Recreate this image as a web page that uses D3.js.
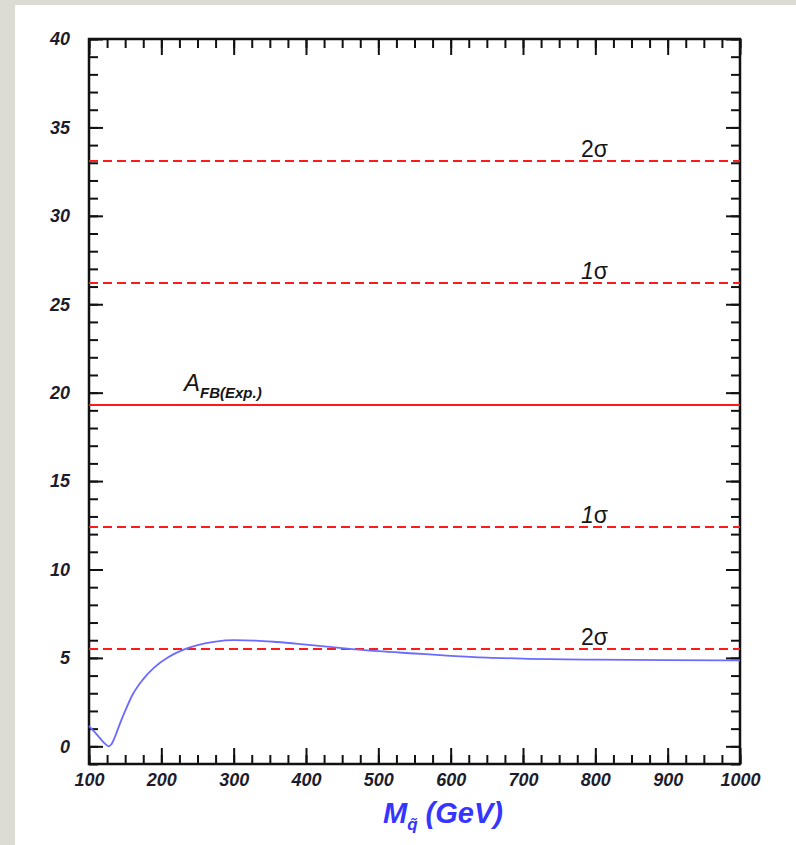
<!DOCTYPE html>
<html>
<head>
<meta charset="utf-8">
<script src="https://cdn.jsdelivr.net/npm/d3@7"></script>
<style>
  body { margin: 0; background: #dcdcd4; }
  svg { display: block; }
  .tick text { font-family: "Liberation Sans", Arial, sans-serif; font-weight: bold; font-style: italic; font-size: 18px; fill: #1c1c2c; }
</style>
</head>
<body>
<div id="chart"></div>
<script>
var w = 796;
var h = 845;

var mass = [100, 108, 116, 122, 127, 131, 136, 142, 150, 160, 175, 190, 210, 230, 250, 275, 300, 330, 360, 400, 450, 500, 550, 600, 650, 700, 800, 900, 1000];
var afb = [1.15, 0.8, 0.42, 0.15, 0.0, 0.12, 0.55, 1.2, 2.0, 2.9, 3.8, 4.45, 5.05, 5.45, 5.72, 5.92, 6.0, 5.98, 5.9, 5.75, 5.55, 5.38, 5.25, 5.12, 5.02, 4.96, 4.9, 4.87, 4.86];

var expValue = 19.3;
var sigmaLines = [
  { value: 33.1, label: "2" },
  { value: 26.2, label: "1" },
  { value: 12.4, label: "1" },
  { value: 5.5, label: "2" }
];

var xMajor = [100, 200, 300, 400, 500, 600, 700, 800, 900, 1000];
var yMajor = [0, 5, 10, 15, 20, 25, 30, 35, 40];

var plotL = 89, plotR = 740, plotT = 39, plotB = 764;

var svg = d3.select("#chart")
  .append("svg")
  .attr("width", w)
  .attr("height", h);

// page background with the grey strip on the left and top
svg.append("rect")
  .attr("x", 15).attr("y", 5)
  .attr("width", w - 15).attr("height", h - 5)
  .attr("fill", "#ffffff");

var xScale = d3.scaleLinear().domain([100, 1000]).range([plotL, plotR]);
var yScale = d3.scaleLinear().domain([-1, 40]).range([plotB, plotT]);

var xMinor = d3.range(100, 1001, 25);
var yMinor = d3.range(-1, 41, 1);

function drawAxis(axis, tx, ty) {
  var g = svg.append("g")
    .attr("transform", "translate(" + tx + "," + ty + ")")
    .call(axis);
  g.select(".domain").remove();
  g.selectAll(".tick line").attr("stroke", "#111").attr("stroke-width", 2);
  return g;
}

// bottom
drawAxis(d3.axisBottom(xScale).tickValues(xMinor).tickSize(-9).tickFormat(""), 0, plotB);
drawAxis(d3.axisBottom(xScale).tickValues(xMajor).tickSize(-16).tickPadding(9).tickFormat(d3.format("d")), 0, plotB);
// top
drawAxis(d3.axisTop(xScale).tickValues(xMinor).tickSize(-9).tickFormat(""), 0, plotT);
drawAxis(d3.axisTop(xScale).tickValues(xMajor).tickSize(-16).tickFormat(""), 0, plotT);
// left
drawAxis(d3.axisLeft(yScale).tickValues(yMinor).tickSize(-9).tickFormat(""), plotL, 0);
drawAxis(d3.axisLeft(yScale).tickValues(yMajor).tickSize(-14).tickPadding(19).tickFormat(d3.format("d")), plotL, 0);
// right
drawAxis(d3.axisRight(yScale).tickValues(yMinor).tickSize(-9).tickFormat(""), plotR, 0);
drawAxis(d3.axisRight(yScale).tickValues(yMajor).tickSize(-14).tickFormat(""), plotR, 0);

svg.append("rect")
  .attr("x", plotL).attr("y", plotT)
  .attr("width", plotR - plotL).attr("height", plotB - plotT)
  .attr("fill", "none")
  .attr("stroke", "#111")
  .attr("stroke-width", 2.5);

// experimental value and sigma bands
svg.append("line")
  .attr("x1", plotL).attr("x2", plotR)
  .attr("y1", yScale(expValue)).attr("y2", yScale(expValue))
  .attr("stroke", "#ff1a1a")
  .attr("stroke-width", 2);

svg.selectAll(".sigma")
  .data(sigmaLines)
  .enter()
  .append("line")
  .attr("class", "sigma")
  .attr("x1", plotL).attr("x2", plotR)
  .attr("y1", function(d) { return yScale(d.value); })
  .attr("y2", function(d) { return yScale(d.value); })
  .attr("stroke", "#ff1a1a")
  .attr("stroke-width", 2)
  .attr("stroke-dasharray", "9,5");

var sigmaText = svg.selectAll(".sigmaLabel")
  .data(sigmaLines)
  .enter()
  .append("text")
  .attr("class", "sigmaLabel")
  .attr("x", 581)
  .attr("y", function(d) { return yScale(d.value) - 4; })
  .style("font-family", "'Liberation Sans', Arial, sans-serif")
  .style("font-size", "23px")
  .attr("fill", "#151515");
sigmaText.append("tspan")
  .style("font-style", function(d) { return d.label === "1" ? "italic" : "normal"; })
  .text(function(d) { return d.label; });
sigmaText.append("tspan")
  .text("σ");

var expText = svg.append("text")
  .attr("x", 184)
  .attr("y", yScale(expValue) - 14)
  .style("font-family", "'Liberation Sans', Arial, sans-serif")
  .style("font-style", "italic")
  .attr("fill", "#151515");
expText.append("tspan")
  .style("font-size", "24px")
  .text("A");
expText.append("tspan")
  .attr("dy", 7)
  .style("font-size", "15px")
  .style("font-weight", "bold")
  .text("FB(Exp.)");

// theory curve
var line = d3.line()
  .x(function(d, i) { return xScale(mass[i]); })
  .y(function(d) { return yScale(d); })
  .curve(d3.curveMonotoneX);

svg.append("path")
  .datum(afb)
  .attr("d", line)
  .attr("fill", "none")
  .attr("stroke", "#6b6bff")
  .attr("stroke-width", 1.8);

// axis title
var title = svg.append("text")
  .attr("x", 383)
  .attr("y", 823)
  .style("font-family", "'Liberation Sans', Arial, sans-serif")
  .style("font-weight", "bold")
  .style("font-style", "italic")
  .attr("fill", "#3535ff");
title.append("tspan")
  .style("font-size", "29px")
  .text("M");
title.append("tspan")
  .attr("dy", 7)
  .style("font-size", "17px")
  .text("q\u0303");
title.append("tspan")
  .attr("dy", -7)
  .style("font-size", "29px")
  .text(" (GeV)");
</script>
</body>
</html>
